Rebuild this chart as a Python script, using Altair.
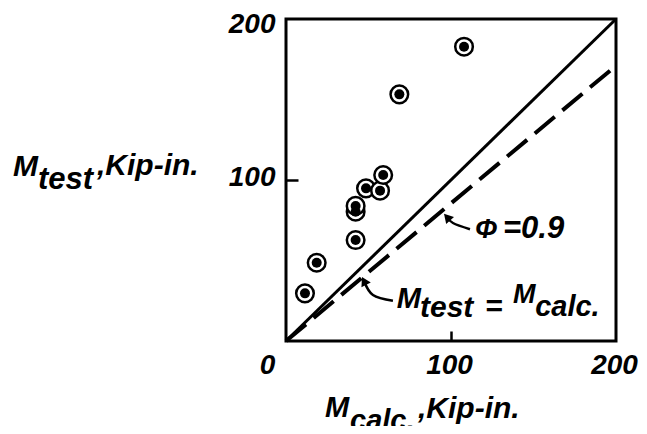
import altair as alt
import pandas as pd

# ---- data ----
m_calc = [11.5, 18.6, 42.2, 42.2, 42.2, 48.5, 57.0, 58.9, 68.7, 107.9]
m_test = [29.6, 48.6, 62.7, 80.3, 83.9, 94.8, 93.4, 103.1, 153.2, 182.8]

equal_x = [0, 200]
equal_y = [0, 200]
phi_x = [0, 200]
phi_y = [0, 171]

tick_values = [0, 100, 200]
y_tick_values = [100, 200]
inner_ticks = [100]

# annotation arrows (data coords)
arrow_phi_x = [97.6, 101.2, 111.5]
arrow_phi_y = [77.0, 73.3, 69.4]
arrow_eq_x = [47.3, 52.7, 64.8]
arrow_eq_y = [37.3, 28.6, 25.0]

FONT = "Liberation Sans"
W, H = 330, 322

xs = alt.Scale(domain=[0, 200], nice=False, zero=True)
ys = alt.Scale(domain=[0, 200], nice=False, zero=True)

lab = dict(labelFont=FONT, labelFontSize=28, labelFontWeight="bold",
           labelFontStyle="italic", labelColor="black")

x_axis = alt.Axis(orient="bottom", values=tick_values, ticks=False, domain=False, grid=False,
                  title=None, labelPadding=10, labelFlush=False,
                  labelOffset={"condition": {"test": "datum.value == 0", "value": -19}, "value": -2},
                  **lab)
y_axis = alt.Axis(orient="left", values=y_tick_values, ticks=False, domain=False, grid=False,
                  title=None, labelPadding=11, labelFlush=False,
                  labelOffset={"condition": {"test": "datum.value == 200", "value": 5}, "value": -3},
                  **lab)

# inward tick axes (shifted into the plot by a negative offset)
x_tick_axis = alt.Axis(orient="bottom", values=inner_ticks, labels=False, domain=False, grid=False,
                       title=None, ticks=True, tickSize=10, tickWidth=2.5, tickColor="black", offset=-10)
y_tick_axis = alt.Axis(orient="left", values=inner_ticks, labels=False, domain=False, grid=False,
                       title=None, ticks=True, tickSize=12, tickWidth=2.5, tickColor="black", offset=-12)

X = alt.X("x:Q", scale=xs, axis=None)
Y = alt.Y("y:Q", scale=ys, axis=None)

pts = pd.DataFrame({"x": m_calc, "y": m_test})

rings = alt.Chart(pts).mark_point(shape="circle", filled=True, fill="white",
                                  stroke="black", strokeWidth=2.5, size=310, opacity=1).encode(
    x=alt.X("x:Q", scale=xs, axis=x_axis),
    y=alt.Y("y:Q", scale=ys, axis=y_axis),
)
dots = alt.Chart(pts).mark_circle(color="black", size=100, opacity=1).encode(x=X, y=Y)

def line(xv, yv, **kw):
    return alt.Chart(pd.DataFrame({"x": xv, "y": yv})).mark_line(color="black", **kw).encode(x=X, y=Y)

solid = line(equal_x, equal_y, strokeWidth=3)
dashed = line(phi_x, phi_y, strokeWidth=4, strokeDash=[26, 10])
arr1 = line(arrow_phi_x, arrow_phi_y, strokeWidth=2.5, interpolate="natural")
arr2 = line(arrow_eq_x, arrow_eq_y, strokeWidth=2.5, interpolate="natural")

def head(x, y, ang):
    return alt.Chart(pd.DataFrame({"x": [x], "y": [y]})).mark_point(
        shape="triangle-up", filled=True, color="black", size=110, angle=ang, opacity=1).encode(x=X, y=Y)

heads = head(arrow_phi_x[0], arrow_phi_y[0], 318) + head(arrow_eq_x[0], arrow_eq_y[0], 333)

# invisible layer that carries the inward tick axes
tick_layer = alt.Chart(pd.DataFrame({"x": inner_ticks, "y": inner_ticks})).mark_point(opacity=0).encode(
    x=alt.X("x:Q", scale=xs, axis=x_tick_axis),
    y=alt.Y("y:Q", scale=ys, axis=y_tick_axis),
)

# in-plot annotation texts (data coords)
ann = pd.DataFrame({
    "x": [114.5, 131.5, 67.1, 81.2, 120.6, 137.6, 151.0],
    "y": [64.0, 64.0, 20.5, 15.1, 15.7, 23.6, 15.5],
    "t": ["Φ", "=0.9", "M", "test", "=", "M", "calc."],
    "fs": [27, 31, 29, 30, 30, 27, 29],
})
ann_text = alt.Chart(ann).mark_text(font=FONT, fontWeight="bold", fontStyle="italic",
                                    align="left", baseline="alphabetic", color="black").encode(
    x=X, y=Y, text="t:N",
    size=alt.Size("fs:Q", scale=None, legend=None),
)

# axis titles (pixel positions relative to the plot area)
titles = pd.DataFrame({
    "px": [-273, -248, -189, 39, 64, 132],
    "py": [157, 170, 156, 398, 411, 399],
    "t": ["M", "test", ",Kip-in.", "M", "calc.", ",Kip-in."],
    "fs": [30, 31, 30, 29, 29, 30],
})
title_text = alt.Chart(titles).mark_text(font=FONT, fontWeight="bold", fontStyle="italic",
                                         align="left", baseline="alphabetic", color="black").encode(
    x=alt.X("px:Q", scale=None, axis=None),
    y=alt.Y("py:Q", scale=None, axis=None),
    text="t:N",
    size=alt.Size("fs:Q", scale=None, legend=None),
)

chart = alt.layer(
    solid, dashed, arr1, arr2, heads, tick_layer, rings, dots, ann_text, title_text
).resolve_axis(
    x="independent", y="independent"
).properties(
    width=W, height=H,
    background="white",
    autosize=alt.AutoSizeParams(type="none"),
    padding={"left": 278, "top": 11, "right": 23, "bottom": 85},
).configure_view(
    stroke="black", strokeWidth=3
)

chart.save("out.html", embed_options={"renderer": "svg", "actions": False})
